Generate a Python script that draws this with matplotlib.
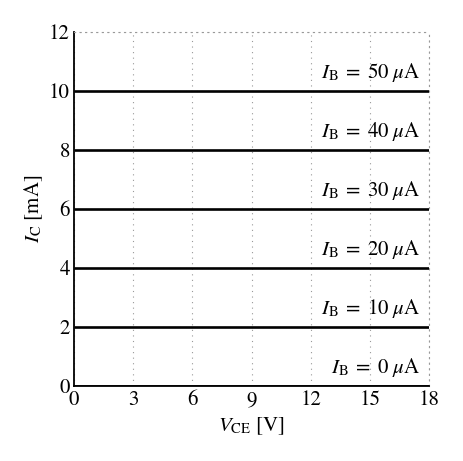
import matplotlib
matplotlib.use("Agg")
import matplotlib.pyplot as plt

ib_values = [0, 10, 20, 30, 40, 50]          # uA
ic_values = [0, 2, 4, 6, 8, 10]              # mA
vce_range = [0, 18]
xticks = [0, 3, 6, 9, 12, 15, 18]
yticks = [0, 2, 4, 6, 8, 10, 12]

plt.rcParams['font.family'] = ['STIXGeneral', 'DejaVu Serif']
plt.rcParams['mathtext.fontset'] = 'stix'

fig = plt.figure(figsize=(4.64, 4.61), dpi=100)
ax = fig.add_axes([0.1595, 0.1627, 0.7651, 0.7679])

for ib, ic in zip(ib_values, ic_values):
    ax.plot(vce_range, [ic, ic], color='black', lw=1.9, solid_capstyle='butt', zorder=3)
    ax.text(17.55, ic + 0.25, r'$I_\mathrm{B}\;=\;%d\;\mu\mathrm{A}$' % ib,
            ha='right', va='bottom', fontsize=15)

ax.set_xlim(0, 18)
ax.set_ylim(0, 12)
ax.set_xticks(xticks)
ax.set_yticks(yticks)
ax.tick_params(length=0, labelsize=15, pad=3)
ax.grid(True, linestyle=(0, (1, 4)), color='#999999', lw=0.8)
for s in ['top', 'right']:
    ax.spines[s].set_linestyle((0, (1, 4)))
    ax.spines[s].set_color('#999999')
    ax.spines[s].set_linewidth(0.8)
for s in ['left', 'bottom']:
    ax.spines[s].set_linewidth(1.3)
    ax.spines[s].set_color('black')

ax.set_xlabel(r'$V_\mathrm{CE}$ [V]', fontsize=15, labelpad=4)
ax.set_ylabel(r'$I_\mathrm{C}$ [mA]', fontsize=15, labelpad=3)

fig.savefig('out.png', dpi=100)
